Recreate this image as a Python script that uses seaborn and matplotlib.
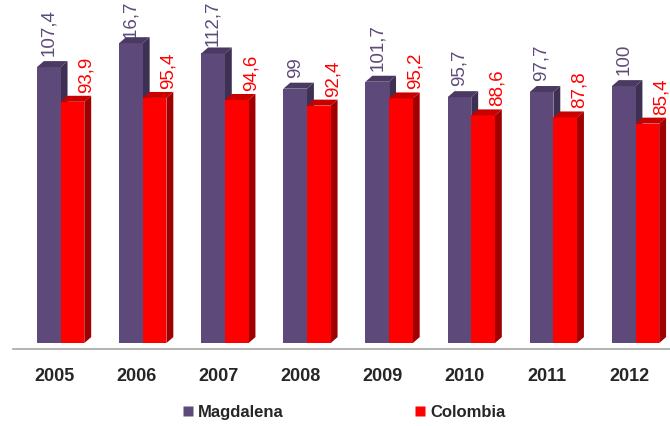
import numpy as np
import pandas as pd
import matplotlib
matplotlib.use("Agg")
import matplotlib.pyplot as plt
from matplotlib.patches import Polygon
from matplotlib.lines import Line2D
import seaborn as sns

# datos
years = ["2005", "2006", "2007", "2008", "2009", "2010", "2011", "2012"]
magdalena = [107.4, 116.7, 112.7, 99, 101.7, 95.7, 97.7, 100]
colombia = [93.9, 95.4, 94.6, 92.4, 95.2, 88.6, 87.8, 85.4]
series = ["Magdalena", "Colombia"]

front_colors = ["#5E4A7A", "#FF0000"]
top_colors = ["#4A3A62", "#C80000"]
side_colors = ["#3E3052", "#A00000"]

df = pd.DataFrame({"year": years, "Magdalena": magdalena, "Colombia": colombia})
long_df = df.melt(id_vars="year", var_name="serie", value_name="valor")

sns.set_style("white")
plt.rcParams["font.family"] = ["Liberation Sans", "DejaVu Sans"]

fig = plt.figure(figsize=(6.7, 4.27), dpi=100)
ax = fig.add_axes([13 / 670, 77 / 427, 1 - 13 / 670, 350 / 427])

sns.barplot(data=long_df, x="year", y="valor", hue="serie", hue_order=series,
            palette=front_colors, width=0.576, saturation=1, legend=False,
            linewidth=0, ax=ax)

ax.set_xlim(-0.5, 7.387)
ax.set_ylim(-2.3, 133.9)

# pixel offsets of the fake 3d depth, converted to data units
inv = ax.transData.inverted()
o = inv.transform([(0, 0), (7, 6)])
ddx, ddy = o[1] - o[0]
shift = 0.08

label_dx = [0, 14]
label_dy = [12, 10]
labels = []

for k, cont in enumerate(ax.containers):
    for bar in cont:
        bar.set_x(bar.get_x() + shift)
        bar.set_zorder(3 + 3 * k)
        x0 = bar.get_x()
        x1 = x0 + bar.get_width()
        h = bar.get_height()
        top = Polygon([(x0, h), (x1, h), (x1 + ddx, h + ddy), (x0 + ddx, h + ddy)],
                      closed=True, facecolor=top_colors[k], edgecolor="none",
                      zorder=3 + 3 * k, clip_on=False)
        side = Polygon([(x1, 0), (x1, h), (x1 + ddx, h + ddy), (x1 + ddx, ddy)],
                       closed=True, facecolor=side_colors[k], edgecolor="none",
                       zorder=2 + 3 * k, clip_on=False)
        ax.add_patch(top)
        ax.add_patch(side)
        txt = f"{h:g}".replace(".", ",")
        t = ax.annotate(txt, xy=((x0 + x1) / 2, h),
                        xytext=(label_dx[k] * 0.72, label_dy[k] * 0.72),
                        textcoords="offset points", rotation=90,
                        ha="center", va="bottom", fontsize=13.5,
                        color=front_colors[k], annotation_clip=False, zorder=1)
        labels.append(t)

# keep labels inside the figure, like excel does (they slide under the bar top)
fig.canvas.draw()
fig_h = fig.bbox.height
for t in labels:
    bb = t.get_window_extent()
    if bb.y1 > fig_h - 1:
        dx, dy = t.xyann
        t.xyann = (dx, dy - (bb.y1 - fig_h + 1) * 0.72)

# axes styling
for s in ["left", "right", "top"]:
    ax.spines[s].set_visible(False)
ax.spines["bottom"].set_color("#A6A6A6")
ax.spines["bottom"].set_linewidth(1.2)
ax.set_yticks([])
ax.set_xlabel("")
ax.set_ylabel("")
ax.set_xticks(range(len(years)))
ax.set_xticklabels(years, fontsize=13, fontweight="bold")
ax.set_xticks(np.arange(-0.5, len(years)), minor=True)
ax.tick_params(axis="x", which="major", length=0, pad=13)
ax.tick_params(axis="x", which="minor", length=5, color="#A6A6A6", width=1.2)

handles = [Line2D([], [], marker="s", linestyle="none", markersize=7,
                  markerfacecolor=c, markeredgecolor="none") for c in front_colors]
fig.legend(handles, series, loc="center", bbox_to_anchor=(0.514, 1 - 413 / 427),
           ncol=2, frameon=False, prop=dict(weight="bold", size=12),
           columnspacing=7.9, handlelength=0.6, handletextpad=0.3)

fig.savefig("out.png", dpi=100)
